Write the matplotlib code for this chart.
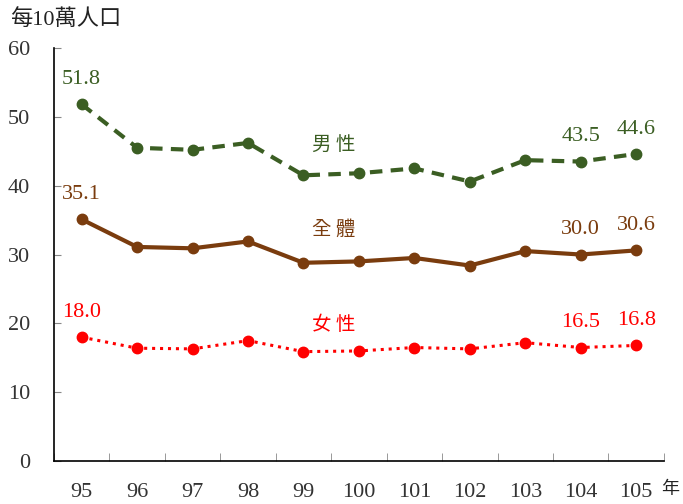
import matplotlib
matplotlib.use("Agg")
import matplotlib.pyplot as plt
import numpy as np

years = ["95", "96", "97", "98", "99", "100", "101", "102", "103", "104", "105"]
male = [51.8, 45.5, 45.2, 46.2, 41.5, 41.8, 42.5, 40.6, 43.7, 43.5, 44.6]
total = [35.1, 31.1, 30.9, 31.9, 28.8, 29.0, 29.5, 28.4, 30.5, 30.0, 30.6]
female = [18.0, 16.4, 16.3, 17.5, 15.9, 16.0, 16.5, 16.3, 17.2, 16.5, 16.8]

# only these points get a value label
labelled = [0, 9, 10]

green = "#3b5e23"
brown = "#7a3c0e"
red = "#ff0000"

serif = ["Liberation Serif", "DejaVu Serif"]
cjk = ["Noto Sans CJK TC", "DejaVu Sans"]

fig = plt.figure(figsize=(6.83, 5.04), dpi=100)
ax = fig.add_axes([0.079, 0.085, 0.893, 0.82])

x = np.arange(len(years))
ax.plot(x, male, color=green, lw=3, ls=(0, (3, 2)), marker="o", ms=7.5)
ax.plot(x, total, color=brown, lw=3, ls="-", marker="o", ms=7.5)
ax.plot(x, female, color=red, lw=2.2, ls=(0, (1, 1.6)), marker="o", ms=7.5)

for i in labelled:
    ax.annotate(f"{male[i]:.1f}", (x[i], male[i]), xytext=(0, 11), textcoords="offset points",
                ha="center", va="bottom", color=green, fontsize=16, family=serif)
    ax.annotate(f"{total[i]:.1f}", (x[i], total[i]), xytext=(0, 11), textcoords="offset points",
                ha="center", va="bottom", color=brown, fontsize=16, family=serif)
    ax.annotate(f"{female[i]:.1f}", (x[i], female[i]), xytext=(0, 11), textcoords="offset points",
                ha="center", va="bottom", color=red, fontsize=16, family=serif)

ax.text(4.55, 46.0, "男 性", color=green, fontsize=14, family=cjk, ha="center", va="center")
ax.text(4.55, 33.6, "全 體", color=brown, fontsize=14, family=cjk, ha="center", va="center")
ax.text(4.55, 19.8, "女 性", color=red, fontsize=14, family=cjk, ha="center", va="center")

ax.set_xlim(-0.5, len(years) - 0.5)
ax.set_ylim(0, 60)
ax.set_yticks(range(0, 61, 10))
ax.set_yticklabels([str(v) for v in range(0, 61, 10)], family=serif, fontsize=16, color="#333333")
ax.set_xticks(x)
ax.set_xticklabels(years, family=serif, fontsize=16, color="#333333")
ax.set_xticks(np.arange(-0.5, len(years)), minor=True)
ax.tick_params(axis="x", which="major", length=0, pad=16)
ax.tick_params(axis="x", which="minor", direction="in", length=6, color="#888888")
ax.tick_params(axis="y", direction="in", length=5, color="#888888", pad=17)

for s in ["top", "right"]:
    ax.spines[s].set_visible(False)
ax.spines["left"].set_linewidth(1.2)
ax.spines["bottom"].set_linewidth(1.2)

fig.text(0.015, 0.962, "每10萬人口", family=["Liberation Serif", "Noto Sans CJK TC"], fontsize=16,
         color="#222222", va="center", ha="left")
fig.text(0.994, 0.03, "年", family=cjk, fontsize=13, color="#222222", va="center", ha="right")

fig.savefig("out.png", dpi=100)
